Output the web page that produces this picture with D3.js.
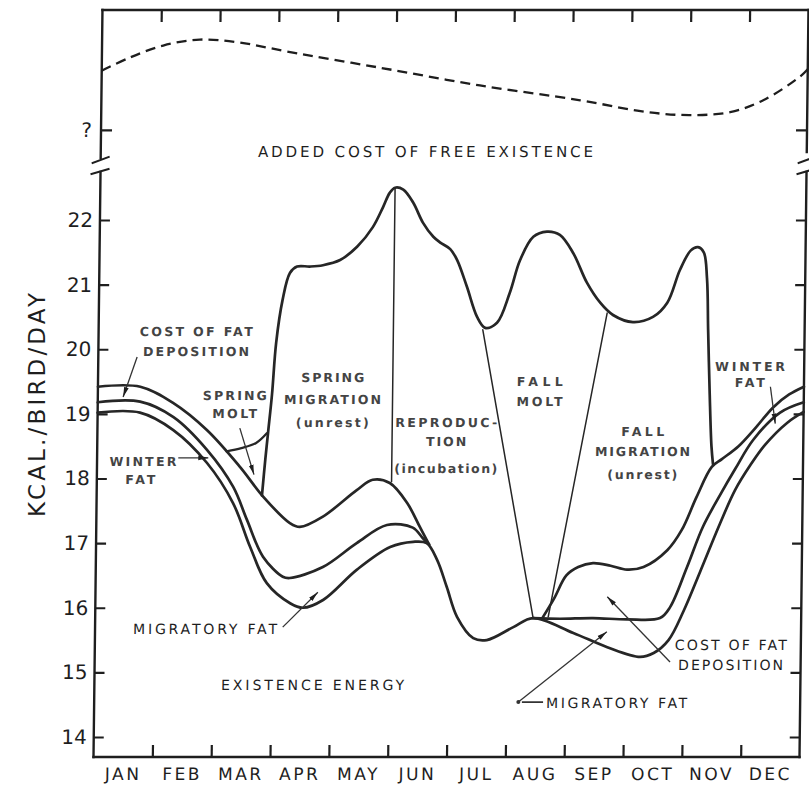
<!DOCTYPE html>
<html><head><meta charset="utf-8">
<script src="https://cdn.jsdelivr.net/npm/d3@7"></script>
<style>html,body{margin:0;padding:0;background:#fff;} svg{display:block;}</style>
</head><body>
<svg id="chart" width="809" height="788"></svg>
<script>
// ---------------- DATA ----------------
const months = ["JAN","FEB","MAR","APR","MAY","JUN","JUL","AUG","SEP","OCT","NOV","DEC"];
const yTicks = [14,15,16,17,18,19,20,21,22];
const yTickQuestion = [0.19];          // "?" tick in upper (unknown-scale) panel

// [month (0 = Jan 1, 12 = Dec 31), kcal/bird/day]
const existenceEnergy = [[0,19.02],[0.72,19.02],[1.29,18.75],[1.87,18.24],[2.32,17.62],[2.62,16.94],[2.91,16.38],[3.31,16.07],[3.53,16.0],[3.87,16.12],[4.44,16.59],[5.0,16.94],[5.39,17.02],[5.62,17.0],[5.80,16.74],[5.97,16.32],[6.15,15.86],[6.43,15.53],[6.66,15.50],[7.11,15.70],[7.44,15.84],[8.13,15.61],[8.71,15.39],[9.27,15.24],[9.5,15.3],[9.75,15.5],[10.0,15.95],[10.27,16.55],[10.6,17.3],[10.85,17.82],[11.1,18.2],[11.35,18.52],[11.72,18.86],[12,19.03]];
const springFatTop = [[0,19.18],[0.72,19.19],[1.29,18.95],[1.87,18.44],[2.32,17.87],[2.56,17.36],[2.84,16.79],[3.18,16.48],[3.30,16.46],[3.86,16.63],[4.43,17.0],[4.94,17.28],[5.38,17.24],[5.55,17.08],[5.66,16.98]];
const springDepositionTop = [[0,19.42],[0.72,19.42],[1.28,19.17],[1.86,18.75],[2.43,18.18],[2.83,17.72],[3.29,17.31],[3.46,17.25],[3.85,17.41],[4.42,17.82],[4.69,17.98],[4.98,17.93],[5.28,17.62],[5.50,17.25],[5.66,16.98]];
const fallFatTop = [[7.44,15.84],[7.9,15.83],[8.46,15.84],[9.04,15.82],[9.6,15.84],[9.77,16.01],[10.05,16.63],[10.31,17.25],[10.6,17.75],[10.85,18.15],[11.15,18.6],[11.6,19.02],[12,19.18]];
const fallDepositionTop = [[7.6,15.84],[7.8,16.15],[8.0,16.5],[8.2,16.63],[8.45,16.69],[8.75,16.65],[9.03,16.59],[9.31,16.63],[9.71,16.89],[9.95,17.2],[10.2,17.72],[10.45,18.18],[10.62,18.3],[10.9,18.5],[11.2,18.8],[11.48,19.1],[11.75,19.3],[12,19.42]];
const springMolt = [[2.2,18.42],[2.45,18.47],[2.7,18.55],[2.88,18.7]];
const totalEnergy = [[2.81,17.74],[2.86,18.3],[2.9,18.7],[2.96,19.3],[3.02,20.1],[3.12,20.76],[3.24,21.18],[3.36,21.28],[3.58,21.28],[3.80,21.3],[4.09,21.38],[4.38,21.59],[4.64,21.89],[4.81,22.2],[4.92,22.42],[5.01,22.5],[5.15,22.47],[5.32,22.27],[5.49,21.96],[5.67,21.74],[5.79,21.65],[5.96,21.55],[6.08,21.38],[6.25,20.97],[6.43,20.5],[6.57,20.33],[6.77,20.41],[6.98,20.87],[7.15,21.38],[7.37,21.74],[7.60,21.82],[7.82,21.77],[8.05,21.49],[8.29,21.03],[8.52,20.72],[8.74,20.53],[9.08,20.42],[9.42,20.50],[9.66,20.72],[9.87,21.23],[10.05,21.53],[10.17,21.58],[10.27,21.5],[10.33,21.1],[10.36,20.3],[10.40,19.3],[10.44,18.5],[10.47,18.22]];
const phaseBoundaries = [
  [[5.01,22.5],[5.01,17.95]],
  [[6.53,20.30],[7.44,15.86]],
  [[8.64,20.56],[7.70,15.86]]
];
// upper panel: added cost of free existence (unknown scale, 0..1)
const freeExistence = [[0,0.59],[0.48,0.68],[1.04,0.76],[1.66,0.80],[2.34,0.78],[3.14,0.72],[4.73,0.61],[6.43,0.49],[8.14,0.39],[9.28,0.31],[10.0,0.29],[10.69,0.31],[11.25,0.39],[11.87,0.55],[12,0.60]];

// ---------------- ANNOTATIONS ----------------
const labelLines = [
  {t:"COST OF FAT", m:1.66, v:20.27, w:113, s:"small"},
  {t:"DEPOSITION", m:1.66, v:19.96, w:106, s:"small"},
  {t:"SPRING", m:2.33, v:19.29, w:64, s:"small"},
  {t:"MOLT", m:2.33, v:19.0, w:45, s:"small"},
  {t:"SPRING", m:3.99, v:19.56, w:63, s:"small"},
  {t:"MIGRATION", m:3.99, v:19.22, w:97, s:"small"},
  {t:"(unrest)", m:3.99, v:18.86, w:73, s:"small"},
  {t:"REPRODUC-", m:5.93, v:18.86, w:102, s:"small"},
  {t:"TION", m:5.93, v:18.57, w:40, s:"small"},
  {t:"(incubation)", m:5.93, v:18.16, w:103, s:"small"},
  {t:"FALL", m:7.51, v:19.50, w:46, s:"small"},
  {t:"MOLT", m:7.51, v:19.19, w:46, s:"small"},
  {t:"FALL", m:9.27, v:18.72, w:43, s:"small"},
  {t:"MIGRATION", m:9.27, v:18.41, w:95, s:"small"},
  {t:"(unrest)", m:9.27, v:18.06, w:70, s:"small"},
  {t:"WINTER", m:11.08, v:19.73, w:70, s:"small"},
  {t:"FAT", m:11.08, v:19.48, w:30, s:"small"},
  {t:"WINTER", m:0.78, v:18.26, w:67, s:"small"},
  {t:"FAT", m:0.74, v:17.98, w:30, s:"small"},
  {t:"MIGRATORY FAT", m:1.87, v:15.67, w:144, s:"plain"},
  {t:"EXISTENCE ENERGY", m:3.71, v:14.80, w:183, s:"plain"},
  {t:"MIGRATORY FAT", m:8.88, v:14.53, w:141, s:"plain"},
  {t:"COST OF FAT", m:10.81, v:15.42, w:112, s:"plain"},
  {t:"DEPOSITION", m:10.81, v:15.11, w:105, s:"plain"}
];
const pointers = [
  [[0.66,19.88],[0.43,19.26]],
  [[2.42,18.78],[2.67,18.06]],
  [[1.38,18.32],[1.89,18.32]],
  [[3.19,15.70],[3.78,16.24]],
  [[11.43,19.42],[11.52,18.85]],
  [[7.21,14.54],[8.70,15.63]],
  [[9.78,15.16],[8.70,16.17]]
];
const connector = [[7.27,14.54],[7.63,14.54]];

// ---------------- LAYOUT ----------------
const skew = 0.012;                 // scanned figure is slightly sheared
const x = d3.scaleLinear().domain([0,12]).range([93.5,799.5]);
const y = d3.scaleLinear().domain([14,22]).range([737,220]);
const yTop = d3.scaleLinear().domain([0,1]).range([158,10]);
const bottomY = 757, lowerTopY = 172, upperBottomY = 158, topY = 10;
const ink = "#1e1e1e";

const svg = d3.select("#chart");
svg.append("rect").attr("width",809).attr("height",788).attr("fill","#fff");

svg.append("defs").append("marker")
  .attr("id","ah").attr("viewBox","0 0 10 6").attr("refX",10).attr("refY",3)
  .attr("markerWidth",10).attr("markerHeight",6).attr("markerUnits","userSpaceOnUse")
  .attr("orient","auto")
  .append("path").attr("d","M0,0.6 L10,3 L0,5.4 Z").attr("fill",ink);

const g = svg.append("g")
  .attr("transform",`translate(${skew*bottomY},0) skewX(${-Math.atan(skew)*180/Math.PI})`);

// frame lines
const frame = g.append("g").attr("stroke",ink).attr("stroke-width",2.4).attr("fill","none").attr("stroke-linecap","square");
frame.append("line").attr("x1",x(0)).attr("x2",x(0)).attr("y1",lowerTopY).attr("y2",bottomY);
frame.append("line").attr("x1",x(0)).attr("x2",x(0)).attr("y1",topY).attr("y2",upperBottomY);
frame.append("line").attr("x1",x(12)).attr("x2",x(12)).attr("y1",lowerTopY).attr("y2",bottomY);
frame.append("line").attr("x1",x(12)).attr("x2",x(12)).attr("y1",topY).attr("y2",upperBottomY-6);
frame.append("line").attr("x1",x(0)).attr("x2",x(12)).attr("y1",bottomY).attr("y2",bottomY);
frame.append("line").attr("x1",x(0)).attr("x2",x(12)+4).attr("y1",topY).attr("y2",topY);
// axis break marks
[x(0), x(12)].forEach(cx=>{
  frame.append("line").attr("x1",cx-8).attr("x2",cx+8).attr("y1",upperBottomY+5).attr("y2",upperBottomY-1).attr("stroke-width",2);
  frame.append("line").attr("x1",cx-9).attr("x2",cx+8).attr("y1",lowerTopY+2).attr("y2",lowerTopY-3).attr("stroke-width",2);
});

// axes
const fontAxis = "DejaVu Sans";
const leftAx = g.append("g").attr("transform",`translate(${x(0)},0)`)
  .call(d3.axisLeft(y).tickValues(yTicks).tickSizeInner(-10).tickSizeOuter(0).tickPadding(7).tickFormat(d3.format("d")));
const leftTop = g.append("g").attr("transform",`translate(${x(0)},0)`)
  .call(d3.axisLeft(yTop).tickValues(yTickQuestion).tickSizeInner(-11).tickSizeOuter(0).tickPadding(9).tickFormat(()=>"?"));
const rightAx = g.append("g").attr("transform",`translate(${x(12)},0)`)
  .call(d3.axisRight(y).tickValues(yTicks).tickSize(-10).tickFormat(""));
const rightTop = g.append("g").attr("transform",`translate(${x(12)},0)`)
  .call(d3.axisRight(yTop).tickValues(yTickQuestion).tickSize(-11).tickFormat(""));
const botAx = g.append("g").attr("transform",`translate(0,${bottomY})`)
  .call(d3.axisBottom(x).tickValues(d3.range(1,12)).tickSize(-12).tickFormat(""));
const topAx = g.append("g").attr("transform",`translate(0,${topY})`)
  .call(d3.axisTop(x).tickValues(d3.range(1,12)).tickSize(-12).tickFormat(""));
const monthAx = g.append("g").attr("transform",`translate(0,${bottomY})`)
  .call(d3.axisBottom(x).tickValues(d3.range(12).map(i=>i+0.5)).tickSize(0).tickPadding(11).tickFormat((d,i)=>months[i]));
[leftAx,leftTop,rightAx,rightTop,botAx,topAx,monthAx].forEach(a=>{
  a.select(".domain").remove();
  a.selectAll(".tick line").attr("stroke",ink).attr("stroke-width",2.2);
  a.selectAll("text").attr("fill",ink).attr("font-family",fontAxis);
});
[leftAx,leftTop].forEach(a=>a.selectAll("text").attr("font-size",20).attr("text-anchor","end"));
monthAx.selectAll("text").attr("font-size",17).attr("letter-spacing","2.5px");

// curves
const line = d3.line().x(d=>x(d[0])).y(d=>y(d[1])).curve(d3.curveCatmullRom.alpha(0.5));
const curves = g.append("g").attr("fill","none").attr("stroke","#262626").attr("stroke-linejoin","round").attr("stroke-linecap","round");
[existenceEnergy, springFatTop, springDepositionTop, fallFatTop, fallDepositionTop, totalEnergy].forEach(s=>{
  curves.append("path").attr("d",line(s)).attr("stroke-width",2.7);
});
curves.append("path").attr("d",line(springMolt)).attr("stroke-width",2.3);
phaseBoundaries.forEach(s=>{
  curves.append("path").attr("d",d3.line().x(d=>x(d[0])).y(d=>y(d[1]))(s)).attr("stroke-width",1.5);
});

// dashed upper curve
const lineTop = d3.line().x(d=>x(d[0])).y(d=>yTop(d[1])).curve(d3.curveCatmullRom.alpha(0.5));
g.append("path").attr("d",lineTop(freeExistence)).attr("fill","none").attr("stroke",ink)
  .attr("stroke-width",2.3).attr("stroke-dasharray","10,6");

// pointers
const pl = d3.line().x(d=>x(d[0])).y(d=>y(d[1]));
pointers.forEach(p=>{
  g.append("path").attr("d",pl(p)).attr("stroke","#333").attr("stroke-width",1.3).attr("fill","none").attr("marker-end","url(#ah)");
});
g.append("path").attr("d",pl(connector)).attr("stroke","#333").attr("stroke-width",1.6);
g.append("circle").attr("cx",x(7.21)).attr("cy",y(14.54)).attr("r",2).attr("fill","#333");

// labels
labelLines.forEach(L=>{
  const small = L.s==="small";
  g.append("text").attr("x",x(L.m)).attr("y",y(L.v)).attr("text-anchor","middle")
    .attr("dominant-baseline","central")
    .attr("font-family","DejaVu Sans").attr("font-size", small?12.5:14)
    .attr("font-weight", small?"bold":"normal")
    .attr("fill", small?"#444":ink)
    .attr("textLength",L.w).attr("lengthAdjust","spacing")
    .text(L.t);
});
g.append("text").attr("x",x(5.52)).attr("y",yTop(0.04)).attr("text-anchor","middle")
  .attr("dominant-baseline","central").attr("font-family","DejaVu Sans").attr("font-size",15)
  .attr("fill",ink).attr("textLength",335).attr("lengthAdjust","spacing")
  .text("ADDED COST OF FREE EXISTENCE");

// y-axis title
svg.append("text").attr("transform","translate(37,405) rotate(-90)")
  .attr("text-anchor","middle").attr("dominant-baseline","central")
  .attr("font-family","DejaVu Sans").attr("font-size",23).attr("fill",ink)
  .attr("textLength",224).attr("lengthAdjust","spacing")
  .text("KCAL./BIRD/DAY");
</script>
</body></html>
